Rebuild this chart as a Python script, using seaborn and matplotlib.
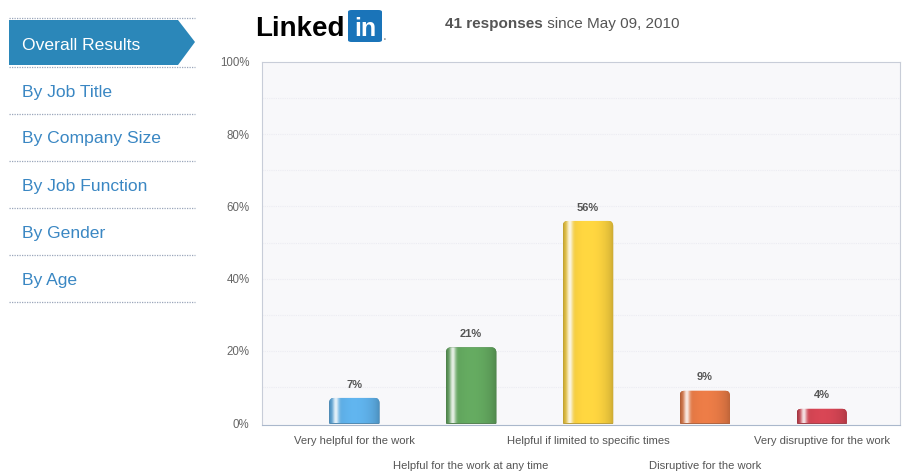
import matplotlib
matplotlib.use("Agg")
import matplotlib.pyplot as plt
import seaborn as sns
import pandas as pd
import numpy as np
from matplotlib.patches import Polygon, FancyBboxPatch
from matplotlib.lines import Line2D
from matplotlib.colors import to_rgb

# ---------------- data ----------------
categories = [
    "Very helpful for the work",
    "Helpful for the work at any time",
    "Helpful if limited to specific times",
    "Disruptive for the work",
    "Very disruptive for the work",
]
values = [7, 21, 56, 9, 4]
bar_colors = ["#5aa8de", "#5e9f5a", "#efc83c", "#dc7442", "#c9414f"]
y_ticks = [0, 20, 40, 60, 80, 100]
y_tick_labels = ["0%", "20%", "40%", "60%", "80%", "100%"]
menu_active = "Overall Results"
menu_items = ["By Job Title", "By Company Size", "By Job Function", "By Gender", "By Age"]
header_bold = "41 responses"
header_rest = " since May 09, 2010"

# ---------------- style ----------------
sns.set_theme(style="white")
plt.rcParams['font.family'] = ['Liberation Sans Narrow', 'Liberation Sans', 'DejaVu Sans']

W, H = 905, 473
fig = plt.figure(figsize=(W / 100, H / 100), dpi=100)
fig.patch.set_facecolor("white")


def fx(px):
    return px / W


def fy(py):
    return 1 - py / H


# ---------------- chart ----------------
ax = fig.add_axes([fx(262), fy(425), (900 - 262) / W, (425 - 62) / H])
ax.set_facecolor("#f8f8fa")
df = pd.DataFrame({"category": categories, "value": values})
sns.barplot(data=df, x="category", y="value", hue="category", palette=bar_colors,
            legend=False, width=0.43, saturation=1, ax=ax, zorder=3)

XL = (-0.79, 4.67)
YL = (-0.5, 100)
ax.set_xlim(*XL)
ax.set_ylim(*YL)
ax.set_yticks(y_ticks)
ax.set_yticklabels(y_tick_labels, color="#666666", fontsize=8.3)
ax.set_xlabel("")
ax.set_ylabel("")
ax.tick_params(axis="both", length=0)
ax.tick_params(axis="y", pad=9)
ax.tick_params(axis="x", pad=8)
for lab in ax.get_xticklabels():
    lab.set_color("#555555")
    lab.set_fontsize(8.1)
for lab in ax.get_xticklabels()[1::2]:
    lab.set_y(-25 / 363)

for gy in range(10, 100, 10):
    ax.axhline(gy, color="#ececf2", lw=0.8, ls=(0, (1, 1)), zorder=1)

for sp in ax.spines.values():
    sp.set_color("#c8cdd8")
    sp.set_linewidth(0.8)
    sp.set_linestyle((0, (1, 1)))
ax.spines["bottom"].set_linestyle("-")
ax.spines["bottom"].set_color("#aab8cc")

# glossy gradient + rounded tops for the bars
ax_w_px = (900 - 262)
ax_h_px = (425 - 62)
x_per_px = (XL[1] - XL[0]) / ax_w_px
y_per_px = (YL[1] - YL[0]) / ax_h_px
r_px = 5
for patch, col in zip(ax.patches, bar_colors):
    bb = patch.get_bbox()
    if bb.height <= 0:
        continue
    base = np.array(to_rgb(col))
    clip = FancyBboxPatch((bb.x0, bb.y0 - 3), bb.width, bb.height + 3,
                          boxstyle=f"round,pad=0,rounding_size={r_px * x_per_px}",
                          mutation_aspect=y_per_px / x_per_px,
                          transform=ax.transData, facecolor="none", edgecolor="none")
    ax.add_patch(clip)
    clip.set_visible(False)
    t = np.linspace(0, 1, 64)
    light = np.exp(-((t - 0.13) / 0.06) ** 2) * 0.85
    shade = 0.80 + 0.28 * np.sin(np.pi * t) ** 0.5
    rgb = np.clip(base[None, :] * shade[:, None], 0, 1)
    rgb = rgb * (1 - light[:, None]) + light[:, None]
    img = ax.imshow(rgb[None, :, :], extent=[bb.x0, bb.x1, bb.y0, bb.y1],
                    aspect="auto", zorder=4, interpolation="bilinear")
    img.set_clip_path(clip)
    patch.set_clip_path(clip)
    patch.set_edgecolor(tuple(base * 0.75))
    patch.set_linewidth(0.6)
ax.set_xlim(*XL)
ax.set_ylim(*YL)

for cont in ax.containers:
    ax.bar_label(cont, fmt="%d%%", padding=6, fontsize=8, fontweight="bold",
                 color="#555555", zorder=5)

# ---------------- header ----------------
fig.text(fx(255), fy(36), "Linked", fontsize=20, fontweight="bold", color="black",
         ha="left", va="baseline", family=["Liberation Sans", "DejaVu Sans"])
fig.add_artist(FancyBboxPatch((fx(348), fy(42)), fx(34), (42 - 10) / H,
                              boxstyle="round,pad=0,rounding_size=0.004",
                              transform=fig.transFigure, facecolor="#1a74b9",
                              edgecolor="none"))
fig.text(fx(365), fy(36), "in", fontsize=18, fontweight="bold", color="white",
         ha="center", va="baseline", family=["Liberation Sans", "DejaVu Sans"])
fig.text(fx(383), fy(40), ".", fontsize=10, color="#888888", ha="left", va="baseline")

t1 = fig.text(fx(445), fy(28), header_bold, fontsize=11, fontweight="bold",
              color="#555555", ha="left", va="baseline")
ax.annotate(header_rest, xy=(1, 0), xycoords=t1, fontsize=11, color="#555555",
            ha="left", va="bottom", annotation_clip=False)

# ---------------- side menu ----------------
arrow = Polygon([(fx(9), fy(20)), (fx(178), fy(20)), (fx(195), fy(42)),
                 (fx(178), fy(65)), (fx(9), fy(65))], closed=True,
                transform=fig.transFigure, facecolor="#2b87b9", edgecolor="none")
fig.add_artist(arrow)
fig.text(fx(22), fy(45), menu_active, fontsize=12.6, color="white", ha="left", va="center")
for i, item in enumerate(menu_items):
    yc = 92 + i * 47
    fig.text(fx(22), fy(yc), item, fontsize=12.6, color="#3a87c3", ha="left", va="center")
for ys in [18, 67, 114, 161, 208, 255, 302]:
    fig.add_artist(Line2D([fx(9), fx(195)], [fy(ys), fy(ys)], transform=fig.transFigure,
                          color="#9aa6bb", lw=0.9, ls=(0, (1, 1))))

fig.savefig("out.png", dpi=100)
